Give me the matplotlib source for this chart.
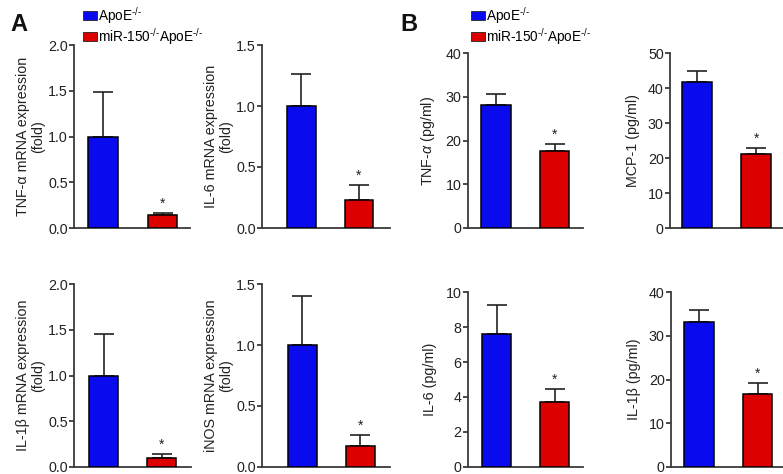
import matplotlib
matplotlib.use("Agg")
import matplotlib.pyplot as plt
from matplotlib.patches import Patch

plt.rcParams['font.family'] = ['Liberation Sans', 'DejaVu Sans']
plt.rcParams['mathtext.fontset'] = 'custom'
plt.rcParams['mathtext.rm'] = 'Liberation Sans'
plt.rcParams['mathtext.it'] = 'Liberation Sans:italic'
plt.rcParams['mathtext.bf'] = 'Liberation Sans:bold'

# ---- data ----
groups = ["ApoE$^{\u2010/\u2010}$", "miR-150$^{\u2010/\u2010}$ApoE$^{\u2010/\u2010}$"]
colors = ["#0a0aee", "#dd0000"]

tnf_mrna = [1.00, 0.14]
tnf_mrna_err = [0.49, 0.02]
il6_mrna = [1.00, 0.23]
il6_mrna_err = [0.26, 0.12]
il1b_mrna = [1.00, 0.10]
il1b_mrna_err = [0.46, 0.04]
inos_mrna = [1.00, 0.17]
inos_mrna_err = [0.40, 0.09]

tnf_prot = [28.2, 17.6]
tnf_prot_err = [2.4, 1.7]
mcp1_prot = [41.8, 21.3]
mcp1_prot_err = [3.0, 1.7]
il6_prot = [7.6, 3.7]
il6_prot_err = [1.65, 0.75]
il1b_prot = [33.1, 16.7]
il1b_prot_err = [2.8, 2.5]

W, H = 783, 474
fig = plt.figure(figsize=(W / 100, H / 100), dpi=100)

def make_ax(l, r, t, b):
    return fig.add_axes([l / W, 1 - b / H, (r - l) / W, (b - t) / H])

FS = 10.3
panels = [
    # (box px: left, right, top, bottom), xlim, ylim, tick step, fmt, ylabel, values, errs, labelpad
    ((74.3, 190, 45, 228), (-0.48, 1.46), 2.0, 0.5, "%.1f",
     "TNF-α mRNA expression\n(fold)", tnf_mrna, tnf_mrna_err, 2),
    ((262.3, 390, 45, 228), (-0.68, 1.54), 1.5, 0.5, "%.1f",
     "IL-6 mRNA expression\n(fold)", il6_mrna, il6_mrna_err, 2),
    ((467.7, 582.7, 53.3, 227.7), (-0.48, 1.48), 40, 10, "%d",
     "TNF-$\\alpha$ (pg/ml)", tnf_prot, tnf_prot_err, 6),
    ((670, 783, 53.3, 228), (-0.45, 1.45), 50, 10, "%d",
     "MCP-1 (pg/ml)", mcp1_prot, mcp1_prot_err, 6),
    ((74.3, 191, 284.3, 466.7), (-0.51, 1.50), 2.0, 0.5, "%.1f",
     "IL-1β mRNA expression\n(fold)", il1b_mrna, il1b_mrna_err, 2),
    ((262, 390, 284.3, 466.7), (-0.69, 1.51), 1.5, 0.5, "%.1f",
     "iNOS mRNA expression\n(fold)", inos_mrna, inos_mrna_err, 2),
    ((467.7, 583, 292.3, 466.7), (-0.50, 1.49), 10, 2, "%d",
     "IL-6 (pg/ml)", il6_prot, il6_prot_err, 6),
    ((671, 783, 292.3, 466.7), (-0.48, 1.43), 40, 10, "%d",
     "IL-1β (pg/ml)", il1b_prot, il1b_prot_err, 6),
]

spine_c = "#3a3a3a"
txt_c = "#222222"
for box, xlim, ymax, step, fmt, ylabel, vals, errs, lp in panels:
    ax = make_ax(*box)
    x = [0, 1]
    ax.bar(x, vals, width=0.5, color=colors, edgecolor="black", linewidth=1.1, zorder=3)
    ax.errorbar(x, vals, yerr=[[0, 0], errs], fmt="none", ecolor="#222222",
                elinewidth=1.2, capsize=7, capthick=1.2, zorder=2)
    ax.annotate("*", xy=(1, vals[1] + errs[1]), xytext=(0, 1.5), textcoords="offset points",
                ha="center", va="bottom", fontsize=10, color=txt_c)
    ax.set_xlim(*xlim)
    ax.set_ylim(0, ymax)
    n = int(round(ymax / step))
    ticks = [i * step for i in range(n + 1)]
    ax.set_yticks(ticks)
    ax.set_yticklabels([fmt % t for t in ticks])
    ax.set_xticks([])
    for s in ("top", "right"):
        ax.spines[s].set_visible(False)
    for s in ("left", "bottom"):
        ax.spines[s].set_color(spine_c)
        ax.spines[s].set_linewidth(1.3)
    ax.tick_params(axis="y", direction="out", length=3.5, width=1.3, color=spine_c,
                   labelsize=FS, labelcolor=txt_c, pad=1)
    ax.set_ylabel(ylabel, fontsize=FS, color=txt_c, labelpad=lp, linespacing=1.1)
    ax.patch.set_visible(False)

handles = [Patch(facecolor=colors[0], edgecolor="#222222", linewidth=0.6),
           Patch(facecolor=colors[1], edgecolor="#222222", linewidth=0.6)]
for xpx in (83, 471):
    fig.legend(handles, groups, loc="upper left",
               bbox_to_anchor=(xpx / W, 1 - 5 / H), frameon=False, fontsize=9.8,
               handlelength=1.0, handleheight=0.6, handletextpad=0.1,
               labelspacing=0.0, borderpad=0, borderaxespad=0)

fig.text(10 / W, 1 - 31 / H, "A", fontsize=17, fontweight="bold", color="#111111")
fig.text(400 / W, 1 - 31 / H, "B", fontsize=17, fontweight="bold", color="#111111")

fig.savefig("out.png", dpi=100)
